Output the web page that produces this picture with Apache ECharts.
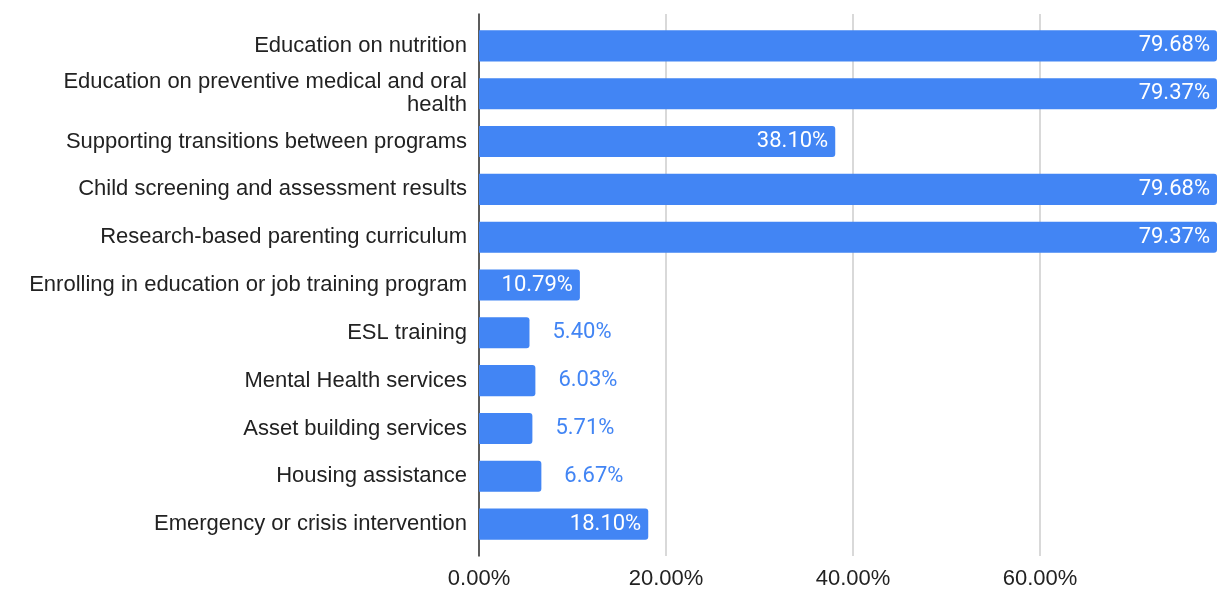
<!DOCTYPE html>
<html>
<head>
<meta charset="utf-8">
<script src="https://cdn.jsdelivr.net/npm/echarts@6/dist/echarts.min.js"></script>
<style>
  html, body { margin: 0; padding: 0; background: #fff; }
  #chart { width: 1217px; height: 590px; }
</style>
</head>
<body>
<div id="chart"></div>
<script>
var categories = [
	'Education on nutrition',
	'Education on preventive medical and oral health',
	'Supporting transitions between programs',
	'Child screening and assessment results',
	'Research-based parenting curriculum',
	'Enrolling in education or job training program',
	'ESL training',
	'Mental Health services',
	'Asset building services',
	'Housing assistance',
	'Emergency or crisis intervention'
];
var values = [79.68, 79.37, 38.10, 79.68, 79.37, 10.79, 5.40, 6.03, 5.71, 6.67, 18.10];
var tickMax = 60;

var BLUE = '#4285f4';
var AXIS_MAX = 78.93;
var LABEL_FONT = '22px "Liberation Sans"';
var LABEL_WIDTH = 450;

var chart = echarts.init(document.getElementById('chart'));

// word wrap without leaving a trailing space on the first line
var ctx = document.createElement('canvas').getContext('2d');
ctx.font = LABEL_FONT;
function wrap(text) {
	var words = text.split(' ');
	var lines = [], line = '';
	for (var i = 0; i < words.length; i++) {
		var test = line ? line + ' ' + words[i] : words[i];
		if (line && ctx.measureText(test).width > LABEL_WIDTH) {
			lines.push(line);
			line = words[i];
		} else {
			line = test;
		}
	}
	lines.push(line);
	return lines.join('\n');
}

// small bars get their label outside, in blue
var barData = values.map(function (v) {
	var inside = v >= 10;
	return {
		value: v,
		label: inside
			? {position: 'insideRight', distance: 7, color: '#fff'}
			: {position: 'right', distance: 23, color: BLUE}
	};
});

chart.setOption({
	animation: false,
	grid: [
		// background grid: gridlines, tick labels and the left axis line (0..60 only)
		{left: 479, right: 177, top: 14, bottom: 33},
		// bar grid
		{left: 479, right: 0, top: 22, bottom: 42}
	],
	xAxis: [{
		gridIndex: 0,
		type: 'value',
		min: 0,
		max: tickMax,
		interval: 20,
		axisLine: {show: false},
		axisTick: {show: false},
		splitLine: {lineStyle: {color: '#cccccc', width: 1.5}},
		axisLabel: {
			margin: 12,
			color: '#222',
			fontFamily: 'Liberation Sans',
			fontSize: 22,
			formatter: function (v) {
				return v.toFixed(2) + '%';
			}
		}
	}, {
		gridIndex: 1,
		type: 'value',
		min: 0,
		max: AXIS_MAX,
		show: false
	}],
	yAxis: [{
		gridIndex: 0,
		type: 'category',
		data: [''],
		axisLine: {lineStyle: {color: '#333', width: 1.5}},
		axisTick: {show: false},
		axisLabel: {show: false}
	}, {
		gridIndex: 1,
		type: 'category',
		inverse: true,
		data: categories,
		axisLine: {show: false},
		axisTick: {show: false},
		axisLabel: {
			margin: 12,
			color: '#222',
			fontFamily: 'Liberation Sans',
			fontSize: 22,
			lineHeight: 23,
			formatter: wrap
		}
	}],
	series: [{
		type: 'bar',
		xAxisIndex: 1,
		yAxisIndex: 1,
		data: barData,
		barCategoryGap: '35%',
		clip: true,
		itemStyle: {color: BLUE, borderRadius: [0, 3, 3, 0]},
		label: {
			show: true,
			fontFamily: 'Roboto',
			fontSize: 22,
			formatter: function (p) {
				return p.value.toFixed(2) + '%';
			}
		}
	}]
});
</script>
</body>
</html>
